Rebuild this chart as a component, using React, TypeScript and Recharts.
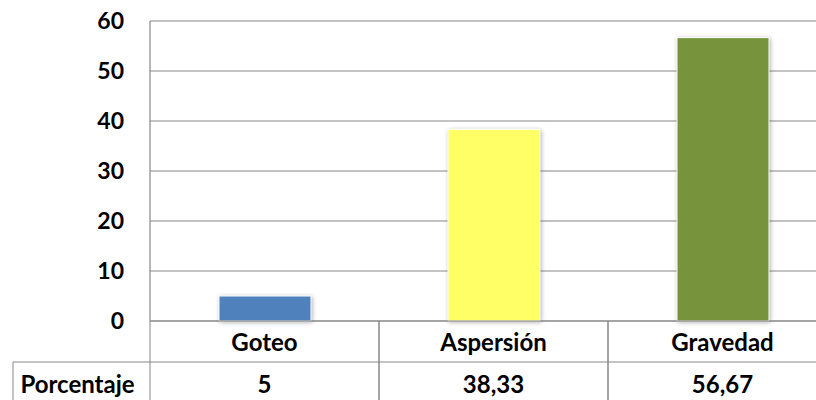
import React from 'react';
import { BarChart, Bar, XAxis, YAxis, CartesianGrid, Cell } from 'recharts';

const categories = ['Goteo', 'Aspersión', 'Gravedad'];
const porcentaje = [5, 38.33, 56.67];
const valueLabels = ['5', '38,33', '56,67'];
const barColors = ['#4F81BD', '#FFFF66', '#77933C'];
const yTicks = [0, 10, 20, 30, 40, 50, 60];
const rowHeader = 'Porcentaje';

const CHART_W = 840;
const CHART_H = 400;
const YAXIS_W = 150;
const MARGIN_RIGHT = 3;
const ROW1_H = 41;
const ROW2_H = 38;
const LINE = '#878787';
const FONT = 'Lato, "Open Sans", sans-serif';
const TABLE_FS = 24;

const data = categories.map((name, i) => ({
  name,
  value: porcentaje[i],
  label: valueLabels[i],
}));

const bandW = (CHART_W - YAXIS_W - MARGIN_RIGHT) / categories.length;

const CategoryTick = (props: any) => {
  const { x, y, payload } = props;
  return (
    <g>
      <line x1={x - bandW / 2} x2={x - bandW / 2} y1={y} y2={y + ROW1_H} stroke={LINE} />
      <line x1={x + bandW / 2} x2={x + bandW / 2} y1={y} y2={y + ROW1_H} stroke={LINE} />
      <text x={x} y={y + ROW1_H / 2} textAnchor="middle" dominantBaseline="central"
        fontFamily={FONT} fontWeight="bold" fontSize={TABLE_FS} fill="#000">
        {payload.value}
      </text>
    </g>
  );
};

const ValueTick = (props: any) => {
  const { x, y, payload, index } = props;
  return (
    <g>
      {index === 0 && (
        <g>
          <line x1={13} x2={x - bandW / 2} y1={y} y2={y} stroke={LINE} />
          <line x1={13} x2={13} y1={y} y2={y + ROW2_H + 4} stroke={LINE} />
          <text x={(13 + x - bandW / 2) / 2 - 4} y={y + 21} textAnchor="middle" dominantBaseline="central"
            fontFamily={FONT} fontWeight="bold" fontSize={TABLE_FS} fill="#000">
            {rowHeader}
          </text>
        </g>
      )}
      <line x1={x - bandW / 2} x2={x - bandW / 2} y1={y} y2={y + ROW2_H + 4} stroke={LINE} />
      <line x1={x + bandW / 2} x2={x + bandW / 2} y1={y} y2={y + ROW2_H + 4} stroke={LINE} />
      <text x={x} y={y + 21} textAnchor="middle" dominantBaseline="central"
        fontFamily={FONT} fontWeight="bold" fontSize={TABLE_FS} fill="#000">
        {payload.value}
      </text>
    </g>
  );
};

export default function App() {
  return (
    <div style={{ position: 'absolute', left: 0, top: 0, width: 816, height: 400, overflow: 'hidden', background: '#fff' }}>
      <BarChart width={CHART_W} height={CHART_H} data={data}
        margin={{ top: 21, right: MARGIN_RIGHT, left: 0, bottom: 0 }}>
        <CartesianGrid vertical={false} stroke={LINE} strokeWidth={1.2} />
        <XAxis dataKey="name" height={ROW1_H} tickSize={0} tickMargin={0} interval={0}
          axisLine={{ stroke: LINE, strokeWidth: 1.2 }} tick={<CategoryTick />} />
        <XAxis xAxisId="val" dataKey="label" height={ROW2_H} tickSize={0} tickMargin={0} interval={0}
          axisLine={{ stroke: LINE, strokeWidth: 1.2 }} tick={<ValueTick />} />
        <YAxis width={YAXIS_W} domain={[0, 60]} ticks={yTicks} tickSize={0} tickMargin={26}
          axisLine={{ stroke: LINE, strokeWidth: 1.2 }}
          tick={{ fontFamily: FONT, fontWeight: 'bold', fontSize: 23, fill: '#000' }} />
        <Bar dataKey="value" barSize={92} isAnimationActive={false} stroke="#ffffff" strokeWidth={1}
          style={{ filter: 'drop-shadow(1px 1px 2px rgba(0,0,0,0.3))' }}>
          {data.map((d, i) => (
            <Cell key={d.name} fill={barColors[i]} />
          ))}
        </Bar>
      </BarChart>
    </div>
  );
}
